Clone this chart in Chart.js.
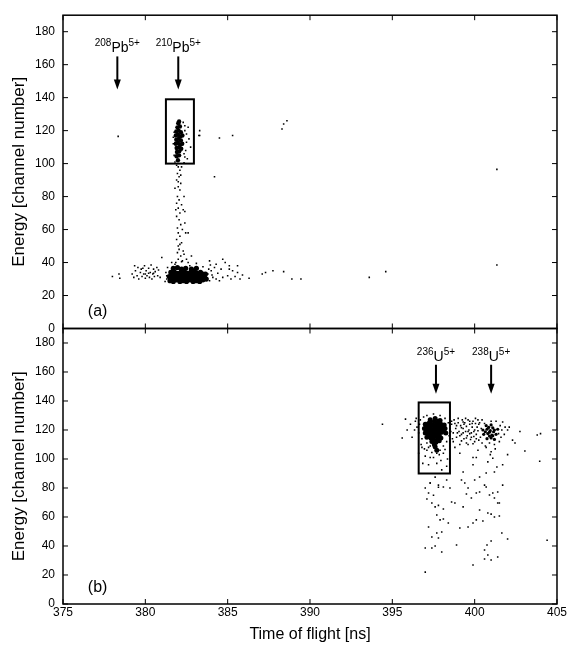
<!DOCTYPE html>
<html>
<head>
<meta charset="utf-8">
<script src="https://cdn.jsdelivr.net/npm/chart.js@4"></script>
<style>
  html, body { margin: 0; padding: 0; background: #fff; }
  canvas { display: block; }
</style>
</head>
<body>
<canvas id="tof" width="568" height="645"></canvas>
<script>
// panel (a): 210Pb run, time of flight [ns] vs energy [channel]
const pbPeak = [
  [382.0,124.5],[382.05,125.5],[381.95,122],[382.1,122.5],[381.88,119.5],[382.02,120],[382.16,119],
  [381.85,117],[381.98,117.5],[382.12,116.5],[382.25,117],[381.88,114.5],[382.02,115],[382.16,114],
  [381.85,112],[381.98,112.5],[382.12,111.5],[382.24,112],[381.9,109.5],[382.05,110],[382.18,109],
  [381.92,107],[382.06,107.5],[381.9,104.5],[382.05,105],[381.98,102]
];
const pbBand = [
  [381.5,29],[381.7,28.5],[381.9,29.5],[382.1,28.5],[382.3,29],[382.5,28.5],[382.7,29.5],[382.9,28.5],[383.1,29],[383.3,28.5],[383.5,29.5],
  [381.6,30.3],[381.85,30.5],[382.05,30.2],[382.25,30.5],[382.45,30.2],[382.65,30.5],[382.85,30.2],[383.05,30.5],[383.25,30.2],[383.45,30.5],
  [381.45,31.5],[381.6,32],[381.8,31],[382.0,31.5],[382.2,32],[382.4,31],[382.6,31.5],[382.8,32],[383.0,31],[383.2,31.5],[383.4,32],[383.6,31],
  [381.65,32.8],[381.9,33],[382.1,32.7],[382.3,33],[382.5,32.7],[382.7,33],[382.9,32.7],[383.1,33],[383.3,32.7],[383.5,33],
  [381.55,34],[381.75,34.5],[381.95,33.5],[382.15,34],[382.35,34.5],[382.55,33.5],[382.75,34],[382.95,34.5],[383.15,33.5],[383.35,34],
  [381.7,36.5],[381.95,37],[382.2,36],[382.45,36.5],[382.8,36],[383.1,36.5],[383.7,30],[383.65,33]
];
const pbScatter = [
  // around the peak
  [382.4,120],[382.5,118],[382.6,122],[382.3,112],[382.45,108],[382.65,115],[382.55,103],[381.7,112],
  [381.75,105],[382.35,100.5],[382.5,113],[383.25,117],[383.3,120],[382.3,125],[382.4,104],[381.75,119],
  [382.75,110],[382.2,98],[381.7,116],[382.35,106],[382.4,123],[381.8,101],
  // tail down to the band
  [382.0,98],[382.1,96],[381.95,94],[382.05,92],[381.9,90],[382.15,88],[382.0,86],[382.1,84],[381.95,80],
  [382.05,78],[381.9,76],[382.2,75],[382.0,73],[382.1,70],[381.9,68],[382.05,66],[382.15,63],[381.95,61],
  [382.0,58],[382.1,56],[381.9,54],[382.2,52],[382.0,50],[382.05,48],[381.95,46],[382.15,44],[382.0,42],
  [382.25,41],[381.85,40],[382.3,72],[382.45,58],[382.35,80],[381.8,85],[382.4,64],[382.6,40],[382.8,44],
  [382.3,47],[381.9,99],[382.15,93],[382.0,89],[381.85,72],[382.25,60],[382.1,51],[382.35,45],[382.6,58],
  [382.4,71],
  // left group
  [379.2,33],[379.3,31],[379.4,35],[379.5,32],[379.55,37],[379.6,30],[379.7,34],[379.75,36],[379.8,31.5],
  [379.9,33],[379.95,38],[380.0,30.5],[380.05,35],[380.1,32],[380.2,36.5],[380.25,31],[380.3,34],[380.35,38.5],
  [380.4,30],[380.45,33],[380.5,36],[380.55,31.5],[380.6,34.5],[380.7,37],[380.75,32],[380.8,35.5],[380.2,33.5],
  [379.85,36.5],[380.0,33],[380.5,33.5],[378.0,31.5],[378.4,33],[378.45,30.5],[379.35,38],[380.9,31],
  // band edges and right tail
  [381.3,30],[381.25,34],[381.35,37],[381.2,28.5],[383.7,30],[383.8,33],[383.9,29],[384.0,35],[384.1,31],
  [384.2,37],[384.3,30],[384.4,33.5],[384.5,29],[384.6,36],[384.7,31],[384.85,40],[385.0,32],[385.1,38],
  [385.2,30],[385.3,35],[385.45,31.5],[385.6,34],[385.75,30],[385.9,32.5],[386.3,30.5],[387.1,33],[387.3,34],
  [387.75,35],[388.4,34.5],[388.9,30],[389.45,30],[393.6,31],[394.6,34.5],[401.35,38.5],[381.6,40],[381.8,39],
  [382.2,40.5],[382.7,38],[383.1,39.5],[383.5,37.5],[383.9,41],[382.5,42],[384.3,39],[381.0,43],[384.7,42],
  [385.6,38],[385.1,36],[383.85,36],[384.05,32.5],[383.95,38.5],[381.3,32],
  // isolated high-energy events
  [378.35,116.5],[383.3,117],[384.5,115.5],[385.3,117],[384.2,92],[388.3,121],[388.4,124],[388.6,126],[401.35,96.5]
];
const pbGate = [381.25, 382.95, 100, 139];
const pbIons = [['208', 'Pb', '5+', 378.3], ['210', 'Pb', '5+', 382.0]];

// panel (b): 236U / 238U run
const uPeak236 = [
  [397.3,127],[397.6,128],[397.9,126.5],[397.3,125.8],[397.55,125.8],[397.8,126],
  [397.0,124],[397.2,124.5],[397.45,123.5],[397.7,124.5],[397.95,124],[398.15,123.5],
  [397.1,122.8],[397.3,122.5],[397.6,122.8],[397.85,122.5],[398.05,122.2],
  [396.95,121],[397.15,121.5],[397.35,120.5],[397.55,121],[397.75,121.5],[397.95,120.5],[398.2,121],
  [397.05,119.5],[397.3,119.8],[397.5,119.5],[397.7,119.8],[397.9,119.5],[398.1,119.8],
  [397.0,118],[397.2,117.5],[397.4,118.5],[397.6,118],[397.8,117.5],[398.0,118.5],[398.25,118],
  [397.25,116.5],[397.45,116.2],[397.65,116.8],[397.85,116.2],
  [397.1,115],[397.35,114.5],[397.55,115.5],[397.75,115],[397.95,114.5],
  [397.5,113.5],[397.75,113.2],[397.4,112],[397.65,111.5],[397.85,112.5],[397.55,110],[397.6,108.5],[397.7,106]
];
const uPeak238 = [
  [400.7,123],[401.0,123.5],[400.85,121.8],[401.1,121.5],
  [400.5,120],[400.75,120.5],[400.95,119.5],[401.2,120],[401.4,120.5],
  [400.65,118.8],[400.9,118.5],[401.15,118.8],
  [400.55,117],[400.8,117.5],[401.05,116.5],[401.3,117],[400.9,115.8],[401.1,116],
  [400.75,114],[401.0,114.5],[401.2,113.5]
];
const uScatter = [
  // around the 236U peak
  [396.4,126],[396.5,122],[396.6,118],[396.7,127],[396.8,114],[396.75,110],[396.9,129],[397.1,130],
  [397.5,131],[397.9,130],[398.2,128],[398.4,125],[398.5,121],[398.45,116],[398.3,112],[398.1,109],
  [397.9,106],[397.3,109],[397.1,111],[396.95,107],[397.7,104],[397.5,101],[397.3,101],[397.7,97],
  [398.0,92.5],[397.1,106],[396.8,108],[398.1,104],[397.6,87.5],[397.3,83.5],[397.8,80.5],[396.6,104],
  [397.95,99],[397.2,96],[398.3,95],[396.35,120],[396.45,128],[396.65,124],[397.2,108],[397.4,104.5],
  [397.85,103],[398.2,106.5],[397.0,102],[398.35,100],[396.85,97],
  [394.4,124],[395.8,127.5],[395.9,120],[396.2,115],[395.6,114.5],[396.1,124],
  // between the two peaks
  [398.6,124],[398.7,118],[398.75,127],[398.85,121],[398.9,115],[399.0,125],[399.05,119],[399.15,123],
  [399.2,117],[399.25,127],[399.3,121],[399.35,114],[399.4,125],[399.45,119],[399.5,122.5],[399.55,116],
  [399.6,127],[399.65,120],[399.7,124],[399.75,113.5],[399.8,118],[399.85,122],[399.9,126],[399.95,115.5],
  [400.0,120],[400.05,124.5],[400.1,117],[400.15,122],[400.2,127],[400.25,113],[399.1,110],[399.5,111],
  [399.9,110.5],[398.8,108],[399.1,104],[399.9,101],[400.2,106],[398.9,123],[399.3,125.5],[399.7,117.5],
  [398.55,119],[398.6,126],[398.65,114],[398.8,124.5],[398.95,118],[399.0,128],[399.1,116],[399.2,121.5],
  [399.3,118],[399.35,124],[399.45,128],[399.5,114.5],[399.6,119],[399.7,126],[399.8,115],[399.85,124.5],
  [399.95,119],[400.05,128],[400.1,114],[400.2,119.5],[400.25,124],[398.7,112],[399.2,112.5],[399.6,110],
  [400.0,112],
  // around the 238U peak
  [400.3,125],[400.45,127],[400.6,124.5],[401.3,126],[401.55,123],[401.7,125.5],[401.65,120],[401.6,115],
  [401.5,112],[400.35,115],[400.45,111],[400.65,109],[400.9,111],[401.2,110],[401.8,117],[402.0,120],
  [402.3,113],[402.45,111],[402.1,122],[402.75,119],[403.8,116.5],[404.0,117.5],[403.05,105.5],[403.95,98.5],
  [400.7,108],[401.0,105],[401.1,100.5],[400.8,98],[401.35,94.5],[401.7,96],[402.0,103],[400.1,101],
  [399.9,96],[399.3,91],[400.95,103],[401.25,107],[401.45,117.5],[400.4,121],[401.85,122],[401.0,126],
  // low-energy tail
  [397.0,80],[397.3,83.4],[397.2,76.6],[397.5,75],[397.8,82],[398.1,80.7],[398.3,85.5],[397.1,72.4],
  [397.4,69.7],[397.6,67],[397.8,68],[398.1,65.5],[397.7,61.4],[397.9,58],[398.1,58.6],[398.4,55.9],
  [397.2,53.1],[398.0,49.7],[397.7,49],[397.4,46.2],[397.8,45.5],[397.0,38.6],[397.4,38.6],[397.6,40],
  [398.0,35.9],[397.0,22],[398.9,40.7],[399.1,52.4],[399.6,53.1],[399.9,55.9],[400.1,58],[400.5,57.2],
  [400.8,62.8],[401.0,62],[401.2,60],[401.5,60.7],[400.3,64.8],[398.6,70.3],[398.8,69.7],[399.3,67],
  [399.5,75.9],[399.8,73.1],[400.1,76.6],[400.3,77.2],[400.6,82],[400.9,75.2],[401.1,76.6],[401.2,73.1],
  [401.4,69.7],[401.5,69.7],[401.4,77.2],[401.7,82],[399.2,85.5],[399.4,83.4],[400.0,85.5],[400.3,87.6],
  [400.7,90.3],[401.2,91],[400.7,80.7],[401.65,49],[402.0,44.8],[401.0,43.4],[400.75,40.7],[400.6,37.2],
  [400.8,33.8],[401.0,30.3],[400.6,31],[401.4,32.4],[399.9,26.9],[404.4,44],[398.5,80],[399.6,80]
];
const uGate = [396.6, 398.5, 90, 139];
const uIons = [['236', 'U', '5+', 397.65], ['238', 'U', '5+', 401.0]];

Chart.defaults.font.family = "'Liberation Sans', Arial, sans-serif";
Chart.defaults.color = '#000';

function dots(data, axis, r, style) {
  return {
    data: data.map(p => ({x: p[0], y: p[1]})),
    yAxisID: axis,
    showLine: false,
    pointStyle: style,
    pointRadius: r,
    pointBorderWidth: 0,
    pointBackgroundColor: '#000',
    pointHoverRadius: r
  };
}

function line(ctx, x1, y1, x2, y2) {
  ctx.beginPath();
  ctx.moveTo(x1, y1);
  ctx.lineTo(x2, y2);
  ctx.stroke();
}

function drawGate(ctx, x, y, g) {
  const l = x.getPixelForValue(g[0]), r = x.getPixelForValue(g[1]);
  const b = y.getPixelForValue(g[2]), t = y.getPixelForValue(g[3]);
  ctx.lineWidth = 2;
  ctx.strokeRect(l, t, r - l, b - t);
}

function drawIon(ctx, x, y, ion) {
  const px = x.getPixelForValue(ion[3]);
  const base = y.getPixelForValue(167.5);
  const top = y.getPixelForValue(165);
  const tip = y.getPixelForValue(145);
  ctx.font = "10px 'Liberation Sans', Arial, sans-serif";
  const w1 = ctx.measureText(ion[0]).width, w3 = ctx.measureText(ion[2]).width;
  ctx.font = "14px 'Liberation Sans', Arial, sans-serif";
  const w2 = ctx.measureText(ion[1]).width;
  let cx = px - (w1 + w2 + w3) / 2;
  ctx.textAlign = 'left';
  ctx.textBaseline = 'alphabetic';
  ctx.font = "10px 'Liberation Sans', Arial, sans-serif";
  ctx.fillText(ion[0], cx, base - 6);
  ctx.font = "14px 'Liberation Sans', Arial, sans-serif";
  ctx.fillText(ion[1], cx + w1, base);
  ctx.font = "10px 'Liberation Sans', Arial, sans-serif";
  ctx.fillText(ion[2], cx + w1 + w2, base - 6);
  // arrow
  ctx.lineWidth = 2;
  line(ctx, px, top, px, tip - 8);
  ctx.beginPath();
  ctx.moveTo(px - 3.5, tip - 10);
  ctx.lineTo(px + 3.5, tip - 10);
  ctx.lineTo(px, tip);
  ctx.closePath();
  ctx.fill();
}

const overlay = {
  id: 'overlay',
  afterDraw(chart) {
    const {ctx, scales} = chart;
    const x = scales.x;
    ctx.save();
    ctx.strokeStyle = '#000';
    ctx.fillStyle = '#000';
    [scales.ya, scales.yb].forEach(y => {
      ctx.lineWidth = 1.5;
      ctx.strokeRect(x.left, y.top, x.right - x.left, y.bottom - y.top);
      ctx.lineWidth = 1;
      y.ticks.forEach(t => {
        const py = y.getPixelForValue(t.value);
        line(ctx, x.left, py, x.left + 5, py);
        line(ctx, x.right, py, x.right - 5, py);
      });
      x.ticks.forEach(t => {
        const px = x.getPixelForValue(t.value);
        line(ctx, px, y.top, px, y.top + 5);
        line(ctx, px, y.bottom, px, y.bottom - 5);
      });
    });
    drawGate(ctx, x, scales.ya, pbGate);
    drawGate(ctx, x, scales.yb, uGate);
    pbIons.forEach(ion => drawIon(ctx, x, scales.ya, ion));
    uIons.forEach(ion => drawIon(ctx, x, scales.yb, ion));
    ctx.font = "16px 'Liberation Sans', Arial, sans-serif";
    ctx.textAlign = 'center';
    ctx.textBaseline = 'middle';
    ctx.fillText('(a)', x.getPixelForValue(377.1), scales.ya.getPixelForValue(10.5));
    ctx.fillText('(b)', x.getPixelForValue(377.1), scales.yb.getPixelForValue(11.5));
    ctx.restore();
  }
};

function energyAxis(weight, stackWeight) {
  return {
    type: 'linear',
    position: 'left',
    stack: 'energy',
    stackWeight: stackWeight,
    weight: weight,
    min: 0,
    max: 190,
    ticks: { stepSize: 20, includeBounds: false, autoSkip: false, padding: 8, font: { size: 12 } },
    grid: { display: false, drawTicks: false },
    border: { display: false },
    title: { display: true, text: 'Energy [channel number]', font: { size: 17 }, padding: { top: 9, bottom: 0 } },
    afterFit(s) { s.width = 63; }
  };
}

new Chart(document.getElementById('tof'), {
  type: 'scatter',
  data: {
    datasets: [
      dots(pbBand, 'ya', 2.6, 'circle'),
      dots(pbPeak, 'ya', 2.2, 'circle'),
      dots(pbScatter, 'ya', 1.1, 'rect'),
      dots(uPeak236, 'yb', 2.5, 'circle'),
      dots(uPeak238, 'yb', 1.6, 'circle'),
      dots(uScatter, 'yb', 1.1, 'rect')
    ]
  },
  options: {
    responsive: false,
    animation: false,
    layout: { padding: { left: 0, right: 11, top: 12, bottom: 0 } },
    plugins: { legend: { display: false }, tooltip: { enabled: false } },
    scales: {
      x: {
        type: 'linear',
        min: 375,
        max: 405,
        ticks: { stepSize: 5, padding: 1, autoSkip: false, font: { size: 12 } },
        grid: { display: false, drawTicks: false },
        border: { display: false },
        title: { display: true, text: 'Time of flight [ns]', font: { size: 16 }, padding: { top: 0, bottom: 1 } },
        afterFit(s) { s.height = 41; }
      },
      ya: energyAxis(1, 315),
      yb: energyAxis(0, 277)
    }
  },
  plugins: [overlay]
});
</script>
</body>
</html>
